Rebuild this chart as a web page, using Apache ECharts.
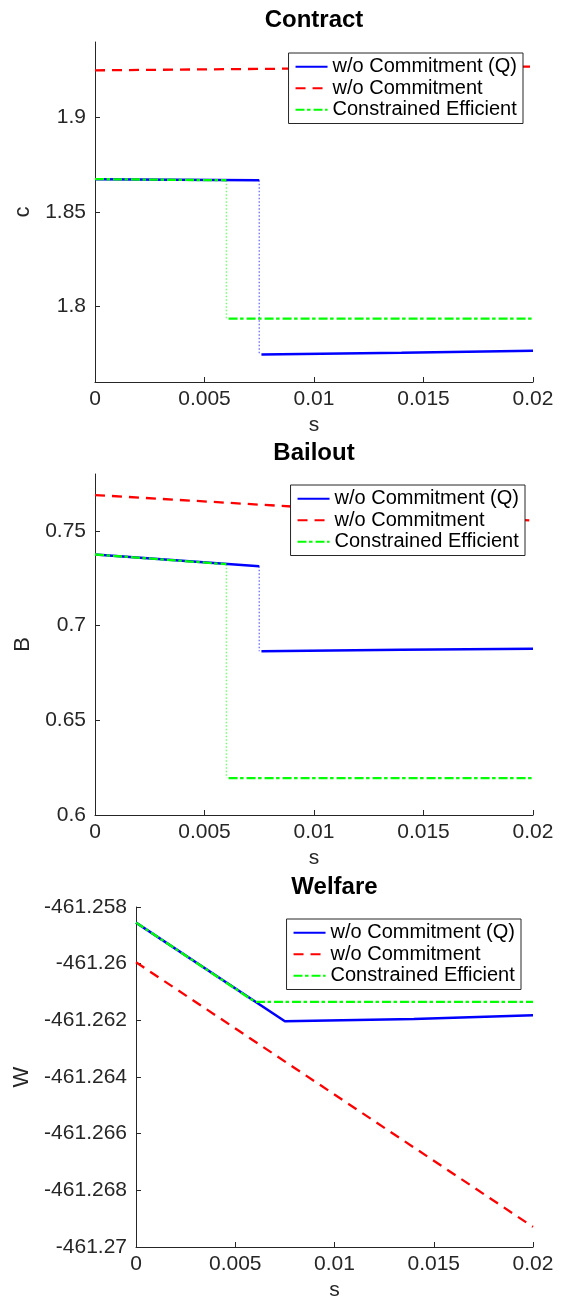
<!DOCTYPE html>
<html>
<head>
<meta charset="utf-8">
<script src="https://cdn.jsdelivr.net/npm/echarts@6/dist/echarts.min.js"></script>
<style>
  html, body { margin: 0; padding: 0; background: #fff; }
  #chart { width: 561px; height: 1303px; }
</style>
</head>
<body>
<div id="chart"></div>
<script>
// Policy parameter s (shared x ticks)
const sTicks = [0, 0.005, 0.01, 0.015, 0.02];

// Sample points of s for each curve (null marks the break at a jump)
const sQ  = [0, 0.0075, 0.00755, 0.0076, 0.014, 0.02];
const sCE = [0, 0.006, 0.00605, 0.0061, 0.02];
const sNC = [0, 0.02];
const sQW = [0, 0.0075, 0.014, 0.02];
const sCEW = [0, 0.006, 0.02];

// Contract c
const contractQ  = [1.8674, 1.8668, null, 1.7745, 1.7755, 1.7766];
const contractCE = [1.8674, 1.8668, null, 1.7935, 1.7935];
const contractNC = [1.9250, 1.9270];
const contractTicks = [1.8, 1.85, 1.9];

// Bailout B
const bailoutQ  = [0.7375, 0.7313, null, 0.6865, 0.6872, 0.6877];
const bailoutCE = [0.7375, 0.7324, null, 0.6195, 0.6195];
const bailoutNC = [0.7689, 0.7554];
const bailoutTicks = [0.6, 0.65, 0.7, 0.75];

// Welfare W
const welfareQ  = [-461.25855, -461.26203, -461.26195, -461.26182];
const welfareCE = [-461.25855, -461.26135, -461.26135];
const welfareNC = [-461.25995, -461.26929];

const NAME_Q = 'w/o Commitment (Q)';
const NAME_NC = 'w/o Commitment';
const NAME_CE = 'Constrained Efficient';

const FONT = '"Liberation Sans", Arial, Helvetica, sans-serif';
const AXIS_COLOR = '#262626';
const TICK_FONT = 21;

function pairs(xs, ys) {
  return xs.map((x, i) => [x, ys[i] === null ? '-' : ys[i]]);
}

// vertical connector across a jump: from the last point before the break to the first after
function jump(xs, ys) {
  const k = ys.indexOf(null);
  return [[xs[k - 1], ys[k - 1]], [xs[k - 1], ys[k + 1]]];
}

const grids = [
  { left: 95, right: 28, top: 42, height: 340 },
  { left: 95, right: 28, top: 474, height: 341 },
  { left: 136, right: 28, top: 907, height: 340 }
];

const fmt = v => String(parseFloat(Number(v).toFixed(4)));

function xAxisFor(idx) {
  return {
    type: 'value', gridIndex: idx, min: 0, max: 0.02, interval: 0.005,
    name: 's', nameLocation: 'middle', nameGap: 33,
    nameTextStyle: { fontFamily: FONT, fontSize: TICK_FONT, color: AXIS_COLOR },
    axisLine: { show: true, lineStyle: { color: AXIS_COLOR, width: 1 } },
    axisTick: { show: true, inside: true, length: 5, lineStyle: { color: AXIS_COLOR } },
    axisLabel: { fontFamily: FONT, fontSize: TICK_FONT, color: AXIS_COLOR, margin: 7, formatter: fmt },
    splitLine: { show: false }
  };
}

function yAxisFor(idx, opts, ticks) {
  const axis = Object.assign({
    type: 'value', gridIndex: idx,
    nameLocation: 'middle', nameRotate: 90,
    nameTextStyle: { fontFamily: FONT, fontSize: 22, color: AXIS_COLOR },
    axisLine: { show: true, lineStyle: { color: AXIS_COLOR, width: 1 } },
    axisTick: { show: true, inside: true, length: 5, lineStyle: { color: AXIS_COLOR } },
    axisLabel: { fontFamily: FONT, fontSize: TICK_FONT, color: AXIS_COLOR, margin: 9, formatter: fmt },
    splitLine: { show: false }
  }, opts);
  if (ticks) {
    axis.axisTick.customValues = ticks;
    axis.axisLabel.customValues = ticks;
  }
  return axis;
}

function lineSeries(name, idx, data, style, z) {
  return {
    type: 'line', name: name, xAxisIndex: idx, yAxisIndex: idx,
    data: data, showSymbol: false, symbol: 'none', connectNulls: false,
    color: style.color, itemStyle: { color: style.color },
    lineStyle: style, z: z, silent: true
  };
}

const styleQ  = { color: '#0000ff', width: 2.5, type: 'solid' };
const styleNC = { color: '#ff0000', width: 2.3, type: [10, 7] };
const styleCE = { color: '#00ff00', width: 2.3, type: [9, 2.5, 3.5, 3] };
const styleQJump  = { color: 'rgba(70,70,255,0.7)', width: 1.5, type: [1.5, 2] };
const styleCEJump = { color: 'rgba(60,255,60,0.7)', width: 1.5, type: [1.5, 2] };

function legendFor(top, right) {
  return {
    data: [NAME_Q, NAME_NC, NAME_CE],
    orient: 'vertical', top: top, right: right,
    itemWidth: 32, itemHeight: 10, itemGap: 0,
    padding: [3, 6, 3, 6],
    backgroundColor: '#ffffff', borderColor: AXIS_COLOR, borderWidth: 1,
    selectedMode: false,
    itemStyle: { opacity: 0 },
    textStyle: { fontFamily: FONT, fontSize: 20, color: '#000', lineHeight: 21.5 }
  };
}

function titleText(text, x, y) {
  return {
    type: 'text', x: x, y: y, z: 10,
    style: { text: text, fill: '#000', font: 'bold 24px ' + FONT,
      textAlign: 'center', textVerticalAlign: 'middle' }
  };
}

const option = {
  animation: false,
  backgroundColor: '#ffffff',
  grid: grids,
  xAxis: [xAxisFor(0), xAxisFor(1), xAxisFor(2)],
  yAxis: [
    yAxisFor(0, { min: 1.76, max: 1.94, name: 'c', nameGap: 57 }, contractTicks),
    yAxisFor(1, { min: 0.6, max: 0.78, name: 'B', nameGap: 54 }, bailoutTicks),
    yAxisFor(2, { min: -461.27, max: -461.258, interval: 0.002, name: 'W', nameGap: 101 })
  ],
  legend: [legendFor(53, 38), legendFor(485, 36), legendFor(919, 40)],
  graphic: [
    titleText('Contract', 314, 20),
    titleText('Bailout', 314, 453),
    titleText('Welfare', 334.5, 887)
  ],
  series: [
    // Contract
    lineSeries(NAME_Q, 0, pairs(sQ, contractQ), styleQ, 3),
    lineSeries('jumpQ0', 0, jump(sQ, contractQ), styleQJump, 2),
    lineSeries(NAME_NC, 0, pairs(sNC, contractNC), styleNC, 3),
    lineSeries(NAME_CE, 0, pairs(sCE, contractCE), styleCE, 4),
    lineSeries('jumpCE0', 0, jump(sCE, contractCE), styleCEJump, 2),
    // Bailout
    lineSeries(NAME_Q, 1, pairs(sQ, bailoutQ), styleQ, 3),
    lineSeries('jumpQ1', 1, jump(sQ, bailoutQ), styleQJump, 2),
    lineSeries(NAME_NC, 1, pairs(sNC, bailoutNC), styleNC, 3),
    lineSeries(NAME_CE, 1, pairs(sCE, bailoutCE), styleCE, 4),
    lineSeries('jumpCE1', 1, jump(sCE, bailoutCE), styleCEJump, 2),
    // Welfare
    lineSeries(NAME_Q, 2, pairs(sQW, welfareQ), styleQ, 3),
    lineSeries(NAME_NC, 2, pairs(sNC, welfareNC), styleNC, 3),
    lineSeries(NAME_CE, 2, pairs(sCEW, welfareCE), styleCE, 4)
  ]
};

const chart = echarts.init(document.getElementById('chart'), null, { renderer: 'canvas' });
chart.setOption(option);
</script>
</body>
</html>
